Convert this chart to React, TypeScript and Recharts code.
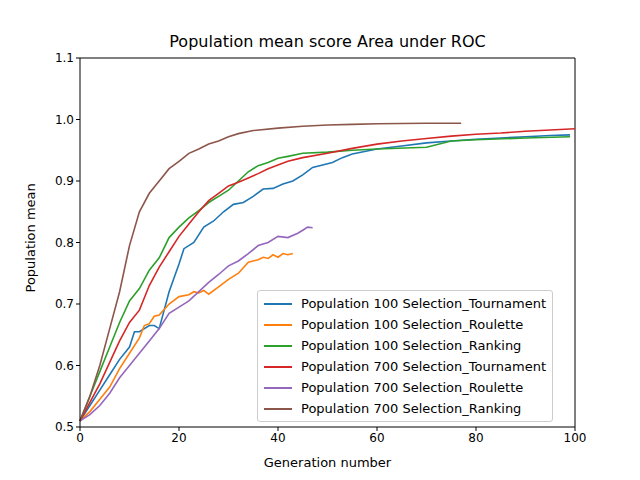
import { LineChart, Line, XAxis, YAxis } from "recharts"

const blueX = [0,2,4,6,8,10,11,12,14,15,16,18,20,21,23,25,27,29,31,33,35,37,39,41,43,45,47,49,51,53,55,60,65,70,75,80,85,90,95,99]
const blueY = [0.51,0.535,0.56,0.585,0.61,0.63,0.655,0.655,0.665,0.665,0.66,0.72,0.765,0.79,0.8,0.825,0.835,0.85,0.862,0.865,0.875,0.887,0.888,0.895,0.9,0.91,0.922,0.926,0.93,0.938,0.944,0.952,0.957,0.962,0.965,0.968,0.97,0.972,0.974,0.975]
const orangeX = [0,2,4,6,8,10,12,13,14,15,16,18,20,22,23,24,25,26,28,30,32,34,36,37,38,39,40,41,42,43]
const orangeY = [0.51,0.525,0.545,0.565,0.595,0.62,0.645,0.665,0.668,0.68,0.682,0.7,0.712,0.715,0.72,0.718,0.722,0.716,0.728,0.74,0.75,0.768,0.772,0.776,0.774,0.78,0.776,0.782,0.78,0.782]
const greenX = [0,2,4,6,8,10,12,14,16,18,20,22,24,26,28,30,32,34,36,38,40,42,45,50,55,60,70,75,80,90,99]
const greenY = [0.51,0.55,0.59,0.63,0.67,0.705,0.725,0.755,0.775,0.808,0.825,0.84,0.852,0.865,0.875,0.885,0.9,0.915,0.925,0.93,0.937,0.94,0.945,0.947,0.95,0.952,0.955,0.965,0.967,0.97,0.972]
const redX = [0,2,4,6,8,10,12,14,16,18,20,22,24,26,28,30,32,34,36,38,40,42,45,50,55,60,65,70,75,80,85,90,95,100]
const redY = [0.51,0.54,0.57,0.605,0.64,0.67,0.69,0.73,0.76,0.785,0.81,0.83,0.85,0.868,0.88,0.892,0.898,0.905,0.912,0.92,0.926,0.932,0.938,0.945,0.953,0.96,0.965,0.969,0.973,0.976,0.978,0.981,0.983,0.985]
const purpleX = [0,2,4,6,8,10,12,14,16,18,20,22,24,26,28,30,32,34,36,38,40,42,44,45,46,47]
const purpleY = [0.51,0.52,0.535,0.555,0.58,0.6,0.62,0.64,0.66,0.685,0.695,0.705,0.72,0.735,0.748,0.762,0.77,0.782,0.795,0.8,0.81,0.808,0.815,0.82,0.825,0.824]
const brownX = [0,2,4,6,8,10,12,14,16,18,20,22,24,26,28,30,32,35,40,45,50,55,60,70,77]
const brownY = [0.51,0.55,0.6,0.66,0.72,0.795,0.85,0.88,0.9,0.92,0.932,0.945,0.952,0.96,0.965,0.972,0.977,0.982,0.986,0.989,0.991,0.992,0.993,0.994,0.994]

const xTicks = [0, 20, 40, 60, 80, 100]
const yTicks = [0.5, 0.6, 0.7, 0.8, 0.9, 1.0, 1.1]

const toRows = (xs: number[], ys: number[]) => xs.map((x, i) => ({ x, y: ys[i] }))

const series = [
  { name: "Population 100 Selection_Tournament", color: "#1f77b4", data: toRows(blueX, blueY) },
  { name: "Population 100 Selection_Roulette", color: "#ff7f0e", data: toRows(orangeX, orangeY) },
  { name: "Population 100 Selection_Ranking", color: "#2ca02c", data: toRows(greenX, greenY) },
  { name: "Population 700 Selection_Tournament", color: "#d62728", data: toRows(redX, redY) },
  { name: "Population 700 Selection_Roulette", color: "#9467bd", data: toRows(purpleX, purpleY) },
  { name: "Population 700 Selection_Ranking", color: "#8c564b", data: toRows(brownX, brownY) },
]

const font = "DejaVu Sans"

const LegendBox = () => (
  <div style={{ position: "absolute", left: 257, top: 290, border: "1px solid #ccc", borderRadius: 3, background: "rgba(255,255,255,0.8)", padding: "2px 6px", fontFamily: font, fontSize: 13 }}>
    {series.map((s) => (
      <div key={s.name} style={{ display: "flex", alignItems: "center", height: 21 }}>
        <span style={{ display: "inline-block", width: 28, height: 2, background: s.color, marginRight: 9 }} />
        {s.name}
      </div>
    ))}
  </div>
)

export default function App() {
  return (
    <div style={{ position: "absolute", left: 0, top: 0, width: 640, height: 480, background: "#fff" }}>
      <div style={{ position: "absolute", top: 32, left: 80, width: 495, textAlign: "center", fontFamily: font, fontSize: 16 }}>
        Population mean score Area under ROC
      </div>
      <LineChart width={640} height={480} margin={{ top: 58, right: 65, bottom: 13, left: 20 }}>
        <XAxis type="number" dataKey="x" domain={[0, 100]} ticks={xTicks} allowDuplicatedCategory={false}
          stroke="#000" tick={{ fill: "#000", fontSize: 12, fontFamily: font }} tickSize={4} height={40}
          label={{ value: "Generation number", position: "insideBottom", offset: 0, fill: "#000", fontSize: 13, fontFamily: font }} />
        <YAxis type="number" domain={[0.5, 1.1]} ticks={yTicks} tickFormatter={(v) => v.toFixed(1)} width={60}
          stroke="#000" tick={{ fill: "#000", fontSize: 12, fontFamily: font }} tickSize={4}
          label={{ value: "Population mean", angle: -90, position: "insideLeft", offset: 10, dy: 50, fill: "#000", fontSize: 13, fontFamily: font }} />
        <line x1={575} y1={58} x2={575} y2={427} stroke="#000" />
        <line x1={80} y1={58} x2={575} y2={58} stroke="#000" />
        {series.map((s) => (
          <Line key={s.name} data={s.data} dataKey="y" name={s.name} stroke={s.color} strokeWidth={1.6}
            dot={false} type="linear" isAnimationActive={false} />
        ))}
      </LineChart>
      <LegendBox />
    </div>
  )
}
